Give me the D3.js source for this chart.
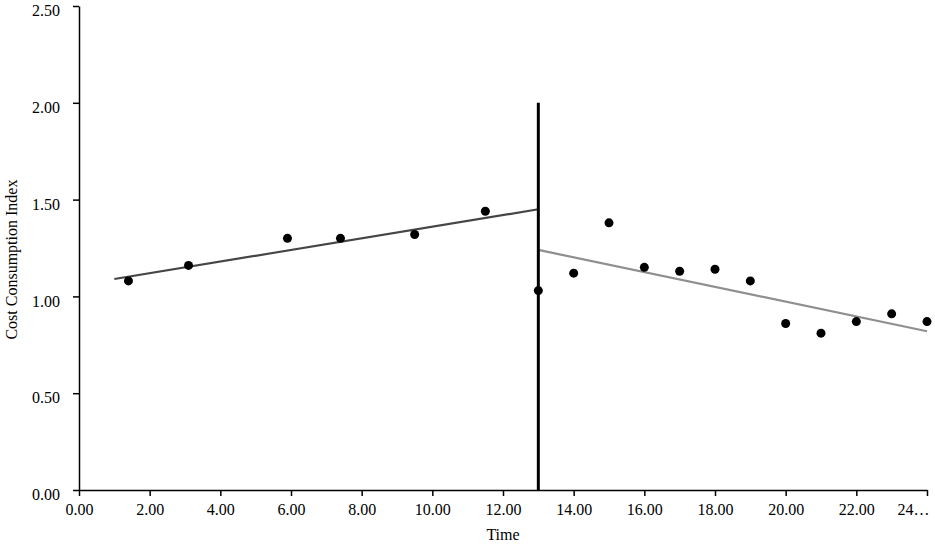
<!DOCTYPE html>
<html>
<head>
<meta charset="utf-8">
<script src="https://cdn.jsdelivr.net/npm/d3@7"></script>
<style>
  body { margin: 0; background: #fff; }
  text { font-family: "Liberation Serif", "Times New Roman", serif; }
</style>
</head>
<body>
<div id="chart"></div>
<script>
// observations
const timeX = [1.4, 3.1, 5.9, 7.4, 9.5, 11.5, 13, 14, 15, 16, 17, 18, 19, 20, 21, 22, 23, 24];
const cci = [1.08, 1.16, 1.30, 1.30, 1.32, 1.44, 1.03, 1.12, 1.38, 1.15, 1.13, 1.14, 1.08, 0.86, 0.81, 0.87, 0.91, 0.87];

// fitted trends before / after the break
const preTrendX = [1, 13];
const preTrendY = [1.09, 1.45];
const postTrendX = [13, 24];
const postTrendY = [1.24, 0.82];

// intervention line
const breakX = 13;
const breakY = [0, 2.0];

const xTicks = [0, 2, 4, 6, 8, 10, 12, 14, 16, 18, 20, 22, 24];
const yTicks = [0, 0.5, 1.0, 1.5, 2.0, 2.5];

const W = 935, H = 545;
const margin = { top: 6, right: 8, bottom: 55, left: 79 };
const width = W - margin.left - margin.right;
const height = H - margin.top - margin.bottom;

const svg = d3.select("#chart")
  .append("svg")
  .attr("width", W)
  .attr("height", H);

const g = svg.append("g")
  .attr("transform", `translate(${margin.left},${margin.top})`);

const x = d3.scaleLinear().domain([0, 24]).range([0, width]);
const y = d3.scaleLinear().domain([0, 2.5]).range([height, 0]);

// axes
const xAxis = g.append("g")
  .attr("transform", `translate(0,${height})`)
  .call(d3.axisBottom(x)
    .tickValues(xTicks)
    .tickSize(6)
    .tickSizeOuter(0)
    .tickPadding(8)
    .tickFormat(d => d === 24 ? "24…" : d3.format(".2f")(d)));

xAxis.selectAll("text")
  .style("font-size", "16px")
  .attr("fill", "#000")
  .filter(d => d === 24)
  .attr("text-anchor", "end")
  .attr("dx", "2px");

const yAxis = g.append("g")
  .call(d3.axisLeft(y)
    .tickValues(yTicks)
    .tickSize(6)
    .tickSizeOuter(0)
    .tickPadding(13)
    .tickFormat(d3.format(".2f")));

yAxis.selectAll("text")
  .style("font-size", "16px")
  .attr("fill", "#000")
  .attr("dy", "0.6em");

[xAxis, yAxis].forEach(a => {
  a.select(".domain").attr("stroke", "#000").attr("stroke-width", 1.5);
  a.selectAll(".tick line").attr("stroke", "#000").attr("stroke-width", 1.5);
});

// axis titles
g.append("text")
  .attr("x", width / 2)
  .attr("y", height + 50)
  .attr("text-anchor", "middle")
  .style("font-size", "16px")
  .text("Time");

g.append("text")
  .attr("transform", "rotate(-90)")
  .attr("x", -y(1.19))
  .attr("y", -margin.left + 17)
  .attr("text-anchor", "middle")
  .style("font-size", "16px")
  .text("Cost Consumption Index");

// trend lines
const line = d3.line().x(d => x(d[0])).y(d => y(d[1]));

g.append("path")
  .datum(d3.zip(preTrendX, preTrendY))
  .attr("fill", "none")
  .attr("stroke", "#454545")
  .attr("stroke-width", 2.2)
  .attr("d", line);

g.append("path")
  .datum(d3.zip(postTrendX, postTrendY))
  .attr("fill", "none")
  .attr("stroke", "#8f8f8f")
  .attr("stroke-width", 2.2)
  .attr("d", line);

// intervention
g.append("line")
  .attr("x1", x(breakX))
  .attr("x2", x(breakX))
  .attr("y1", y(breakY[0]))
  .attr("y2", y(breakY[1]))
  .attr("stroke", "#000")
  .attr("stroke-width", 3);

// points
g.selectAll(".dot")
  .data(d3.zip(timeX, cci))
  .enter().append("circle")
  .attr("class", "dot")
  .attr("cx", d => x(d[0]))
  .attr("cy", d => y(d[1]))
  .attr("r", 4.5)
  .attr("fill", "#000");
</script>
</body>
</html>
